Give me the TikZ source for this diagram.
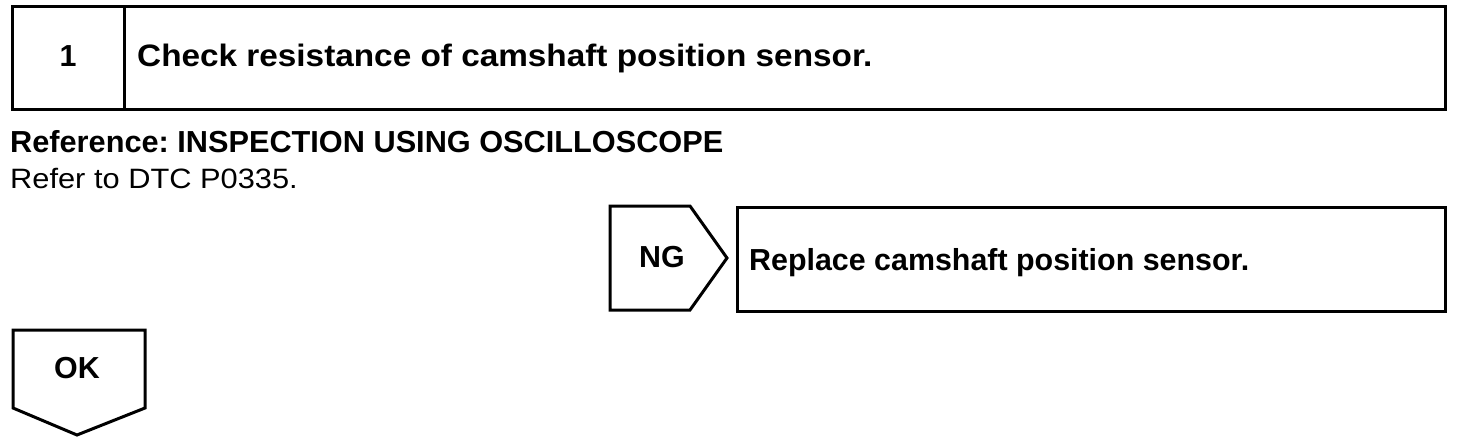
\documentclass[tikz,border=0pt]{standalone}
\usepackage{graphicx}
\usepackage{fontspec}
\setmainfont{Liberation Sans}
\frenchspacing
\begin{document}
\begin{tikzpicture}[x=1pt,y=-1pt,
  frame/.style={draw=black,line width=3pt,line join=miter},
  txt/.style={inner sep=0pt,anchor=base west},
  bold/.style={font=\fontsize{30.4}{34}\selectfont\bfseries},
  plain/.style={font=\fontsize{28}{32}\selectfont}]
\useasboundingbox (0,0) rectangle (1472,442);
% step 1 box
\draw[frame] (12,6) rectangle (1445,109);
\draw[frame] (124,6) -- (124,109);
\node[bold,inner sep=0pt,anchor=base] (num) at (68,66) {1};
\node[bold,txt] (title) at (137,66) {\scalebox{1.075}[1]{\fontsize{31}{34}\selectfont\bfseries Check resistance of camshaft position sensor.}};
% reference text
\node[bold,txt] (ref) at (10,152) {\scalebox{1.01}[1]{Reference: INSPECTION USING OSCILLOSCOPE}};
\node[plain,txt] (refer) at (10,188) {\scalebox{1.1}[1]{Refer to DTC P0335.}};
% NG
\draw[frame] (610,206) -- (690,206) -- (727,258) -- (690,310) -- (610,310) -- cycle;
\node[bold,inner sep=0pt,anchor=base] (ng) at (662,267) {NG};
\draw[frame] (737,207) rectangle (1445,311);
\node[bold,txt] (replace) at (749,270) {Replace camshaft position sensor.};
% OK
\draw[frame] (13,330) -- (145,330) -- (145,408) -- (77,435) -- (13,408) -- cycle;
\node[bold,inner sep=0pt,anchor=base] (ok) at (77,378) {OK};
\end{tikzpicture}
\end{document}
